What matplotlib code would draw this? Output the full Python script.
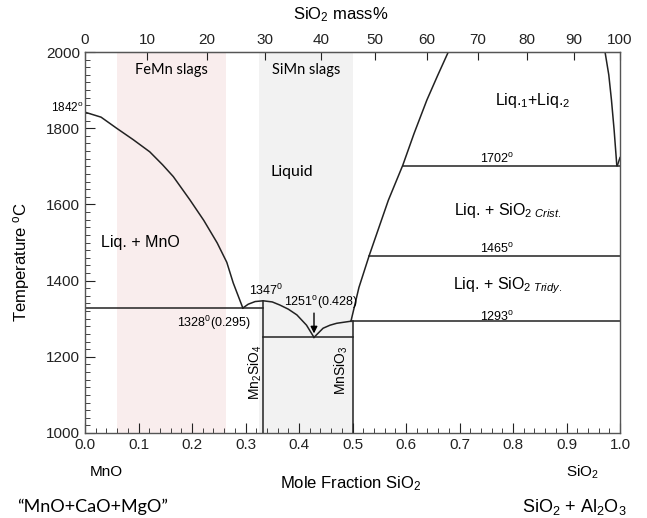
import numpy as np
import matplotlib
matplotlib.use("Agg")
import matplotlib.pyplot as plt
from matplotlib.ticker import MultipleLocator

plt.rcParams['font.family'] = ['Liberation Sans', 'DejaVu Sans']
plt.rcParams['mathtext.fontset'] = 'custom'
plt.rcParams['mathtext.rm'] = 'Liberation Sans'
plt.rcParams['mathtext.it'] = 'Liberation Sans:italic'

# molar masses for the mass% top axis
M_MNO = 70.94
M_SIO2 = 60.08

# liquidus MnO side
mno_liq_x = [0.0, 0.03, 0.059, 0.09, 0.121, 0.145, 0.165, 0.196, 0.222,
             0.247, 0.265, 0.277, 0.295]
mno_liq_T = [1842, 1829, 1800, 1770, 1738, 1704, 1673, 1612, 1558,
             1499, 1448, 1394, 1328]
# tephroite dome
teph_x = [0.295, 0.305, 0.318, 0.333, 0.35, 0.364, 0.38, 0.396, 0.414, 0.428]
teph_T = [1328, 1338, 1345, 1347, 1344, 1336, 1325, 1310, 1283, 1251]
# rhodonite branch
rhod_x = [0.428, 0.445, 0.458, 0.4705, 0.495]
rhod_T = [1251, 1275, 1283, 1288, 1293]
# silica liquidus
sil_x = [0.497, 0.512, 0.531, 0.567, 0.594, 0.615, 0.639, 0.659, 0.679]
sil_T = [1293, 1382, 1465, 1611, 1703, 1786, 1874, 1938, 2000]
# immiscibility dome, right side
dome_x = [0.972, 0.979, 0.984, 0.989, 0.994]
dome_T = [2000, 1940, 1874, 1795, 1702]
crist_x = [0.995, 1.0]
crist_T = [1702, 1723]

# invariant lines: (x0, x1, T)
iso_lines = [(0.0, 0.333, 1328), (0.333, 0.5, 1251), (0.497, 1.0, 1293),
             (0.531, 1.0, 1465), (0.594, 1.0, 1702)]
# compounds: (x, T top)
compounds = [(0.333, 1347), (0.5, 1293)]

# slag windows
femn_range = (0.06, 0.263)
simn_range = (0.325, 0.5)


def mass_to_mole(w):
    w = np.asarray(w, dtype=float)
    a = w / M_SIO2
    b = (100 - w) / M_MNO
    return a / (a + b)


def mole_to_mass(x):
    x = np.asarray(x, dtype=float)
    a = x * M_SIO2
    b = (1 - x) * M_MNO
    return 100 * a / (a + b)


fig = plt.figure(figsize=(6.47, 5.18), dpi=100)
ax = fig.add_axes([0.1314, 0.1641, 0.8269, 0.7355])

ax.axvspan(*femn_range, color='#f9eded', lw=0, zorder=0)
ax.axvspan(*simn_range, color='#f2f2f2', lw=0, zorder=0)

lc = '#222222'
lw = 1.1
for xs, ts in [(mno_liq_x, mno_liq_T), (teph_x, teph_T), (rhod_x, rhod_T),
               (sil_x, sil_T), (dome_x, dome_T), (crist_x, crist_T)]:
    ax.plot(xs, ts, color=lc, lw=lw, solid_joinstyle='round')
for x0, x1, t in iso_lines:
    ax.plot([x0, x1], [t, t], color=lc, lw=lw)
for x, t in compounds:
    ax.plot([x, x], [1000, t], color=lc, lw=lw)

ax.set_xlim(0, 1)
ax.set_ylim(1000, 2000)
ax.xaxis.set_major_locator(MultipleLocator(0.1))
ax.xaxis.set_minor_locator(MultipleLocator(0.02))
ax.yaxis.set_major_locator(MultipleLocator(200))
ax.yaxis.set_minor_locator(MultipleLocator(20))
ax.xaxis.set_major_formatter(plt.FuncFormatter(lambda v, p: f'{v:.1f}'))
ax.tick_params(which='both', direction='in', top=False, right=False,
               labelsize=11, colors='#222222')
ax.tick_params(which='major', length=7)
ax.tick_params(which='minor', length=3.5)
for s in ax.spines.values():
    s.set_color('#555555')
    s.set_linewidth(1)

sec = ax.secondary_xaxis('top', functions=(mole_to_mass, mass_to_mole))
sec.set_xticks(np.arange(0, 101, 10))
sec.tick_params(direction='in', length=6, labelsize=11, colors='#222222')
sec.spines['top'].set_color('#555555')

ax.set_ylabel(r'Temperature $^{\mathrm{o}}$C', fontsize=12)
ax.yaxis.set_label_coords(-0.099, 0.45)
ax.text(0.477, 1.097, r'SiO$_2$ mass%', transform=ax.transAxes, fontsize=12,
        ha='center', va='center')
ax.text(0.497, -0.132, r'Mole Fraction SiO$_2$', transform=ax.transAxes,
        fontsize=12, ha='center', va='center')
ax.text(0.04, -0.102, 'MnO', transform=ax.transAxes, fontsize=11,
        ha='center', va='center')
ax.text(0.93, -0.102, r'SiO$_2$', transform=ax.transAxes, fontsize=11,
        ha='center', va='center')
ax.text(0.015, -0.193, '\u201cMnO+CaO+MgO\u201d', transform=ax.transAxes,
        fontsize=13, ha='center', va='center', family='Lato')
ax.text(0.914, -0.193, 'SiO$_2$ + Al$_2$O$_3$', transform=ax.transAxes,
        fontsize=13, ha='center', va='center')

ax.text(sum(femn_range) / 2, 1953, 'FeMn slags', fontsize=10.5,
        ha='center', va='center', family='Lato')
ax.text(sum(simn_range) / 2, 1953, 'SiMn slags', fontsize=10.5,
        ha='center', va='center', family='Lato')
ax.text(0.387, 1685, 'Liquid', fontsize=11.5, ha='center', va='center',
        family='Lato')
ax.text(0.103, 1499, 'Liq. + MnO', fontsize=11.5, ha='center', va='center')
ax.text(-0.034, 1852, r'1842$^{\mathrm{o}}$', fontsize=8.5, ha='center',
        va='center')
ax.text(0.241, 1289, r'1328$^{0}$(0.295)', fontsize=9, ha='center', va='center')
ax.text(0.339, 1373, r'1347$^{0}$', fontsize=9, ha='center', va='center')
ax.text(0.442, 1342, r'1251$^{\mathrm{o}}$(0.428)', fontsize=9, ha='center',
        va='center')
ax.annotate('', xy=(0.428, 1254), xytext=(0.428, 1322),
            arrowprops=dict(arrowstyle='-|>', color='black', lw=1,
                            mutation_scale=10))
ax.text(0.318, 1160, r'Mn$_2$SiO$_4$', fontsize=10, rotation=90,
        ha='center', va='center')
ax.text(0.479, 1165, r'MnSiO$_3$', fontsize=10, rotation=90,
        ha='center', va='center')
ax.text(0.837, 1874, r'Liq.$_1$+Liq.$_2$', fontsize=11.5,
        ha='center', va='center')
ax.text(0.770, 1720, r'1702$^{\mathrm{o}}$', fontsize=9, ha='center',
        va='center')
ax.text(0.79, 1585, r'Liq. + SiO$_{2\ \mathit{Crist.}}$', fontsize=11.5,
        ha='center', va='center')
ax.text(0.770, 1483, r'1465$^{\mathrm{o}}$', fontsize=9, ha='center',
        va='center')
ax.text(0.79, 1386, r'Liq. + SiO$_{2\ \mathit{Tridy.}}$', fontsize=11.5,
        ha='center', va='center')
ax.text(0.770, 1304, r'1293$^{\mathrm{o}}$', fontsize=9, ha='center',
        va='center')

fig.savefig('out.png', dpi=100)
